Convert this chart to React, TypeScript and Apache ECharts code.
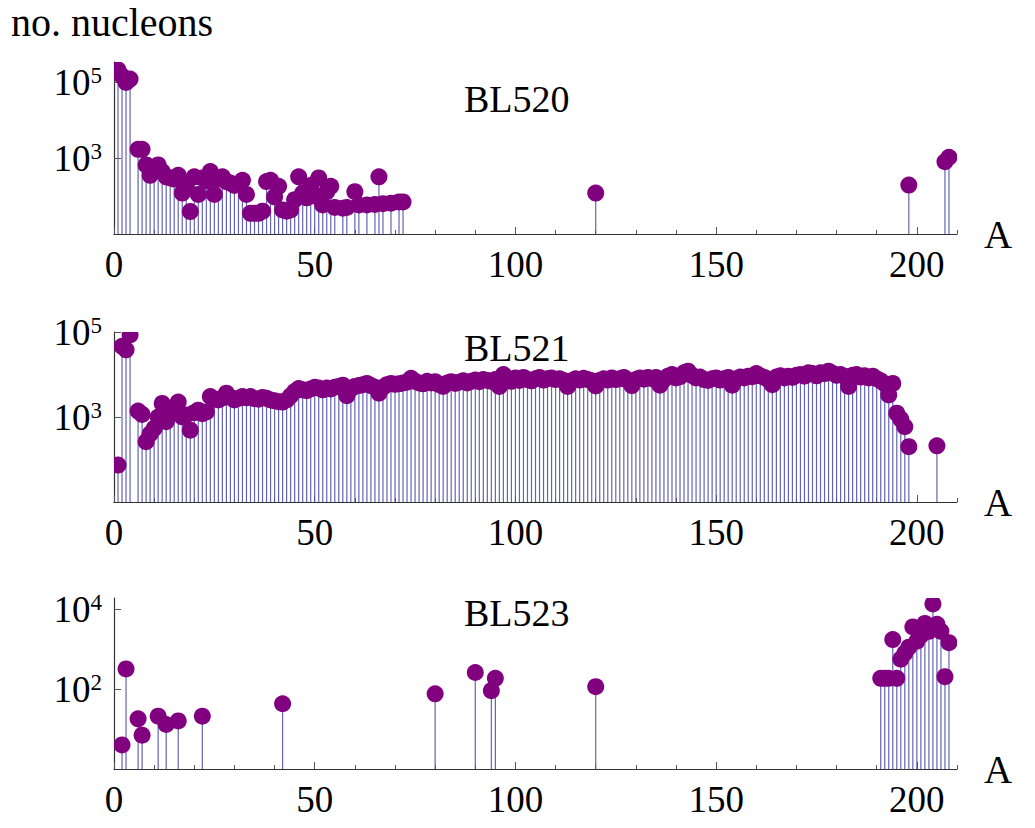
import React, { useEffect, useRef } from "react";
import * as echarts from "echarts";

// ---------- data: mass number A and number of nucleons ----------
const bl520Mass = [1, 2, 3, 4, 6, 7, 8, 9, 10, 11, 12, 13, 14, 15, 16, 17, 18, 19, 20, 21, 22, 23, 24, 25, 26, 27, 28, 29, 30, 31, 32, 33, 34, 35, 36, 37, 38, 39, 40, 41, 42, 43, 44, 45, 46, 47, 48, 49, 50, 51, 52, 53, 54, 55, 57, 58, 60, 61, 63, 65, 66, 67, 69, 71, 72, 120, 198, 207, 208];
const bl520Counts = [210000, 145000, 98000, 120000, 1700, 1700, 660, 350, 500, 660, 440, 320, 300, 280, 350, 120, 200, 39, 320, 110, 300, 250, 440, 110, 280, 320, 240, 220, 190, 200, 260, 110, 35, 35, 35, 40, 240, 260, 95, 180, 43, 40, 43, 80, 320, 120, 90, 190, 100, 300, 58, 130, 180, 50, 48, 50, 130, 58, 58, 60, 320, 63, 65, 70, 70, 120, 195, 800, 1050];

const bl521Mass = [1, 2, 3, 4, 6, 7, 8, 9, 10, 11, 12, 13, 14, 15, 16, 17, 18, 19, 20, 21, 22, 23, 24, 25, 26, 27, 28, 29, 30, 31, 32, 33, 34, 35, 36, 37, 38, 39, 40, 41, 42, 43, 44, 45, 46, 47, 48, 49, 50, 51, 52, 53, 54, 55, 56, 57, 58, 59, 60, 61, 62, 63, 64, 65, 66, 67, 68, 69, 70, 71, 72, 73, 74, 75, 76, 77, 78, 79, 80, 81, 82, 83, 84, 85, 86, 87, 88, 89, 90, 91, 92, 93, 94, 95, 96, 97, 98, 99, 100, 101, 102, 103, 104, 105, 106, 107, 108, 109, 110, 111, 112, 113, 114, 115, 116, 117, 118, 119, 120, 121, 122, 123, 124, 125, 126, 127, 128, 129, 130, 131, 132, 133, 134, 135, 136, 137, 138, 139, 140, 141, 142, 143, 144, 145, 146, 147, 148, 149, 150, 151, 152, 153, 154, 155, 156, 157, 158, 159, 160, 161, 162, 163, 164, 165, 166, 167, 168, 169, 170, 171, 172, 173, 174, 175, 176, 177, 178, 179, 180, 181, 182, 183, 184, 185, 186, 187, 188, 189, 190, 191, 192, 193, 194, 195, 196, 197, 198, 205];
const bl521Counts = [74, 46000, 38000, 85000, 1380, 1150, 263, 400, 537, 1000, 2090, 776, 1120, 1580, 2240, 1000, 1120, 490, 1260, 1450, 1200, 1320, 3020, 2630, 2510, 2820, 3630, 2880, 2510, 2750, 3020, 2820, 3020, 2690, 2630, 2880, 2750, 2510, 2400, 2290, 2240, 2510, 3160, 3980, 4680, 4370, 4170, 4570, 5010, 4790, 4370, 4790, 4570, 5010, 5250, 5620, 3160, 4570, 5250, 5500, 5750, 6170, 5500, 5010, 3630, 5010, 5750, 6170, 5890, 6030, 6310, 6610, 8130, 6920, 6310, 6030, 6920, 6310, 6760, 5750, 5250, 6310, 6760, 6170, 6610, 7080, 6310, 6920, 7410, 6760, 7590, 7240, 6920, 7590, 5250, 10000, 7940, 6920, 8320, 7240, 8510, 7590, 7080, 7940, 8510, 7410, 7940, 8320, 7590, 7940, 7240, 5250, 7080, 7940, 7410, 8130, 7590, 7080, 5370, 7240, 7940, 7410, 8320, 7590, 7940, 8510, 7240, 5500, 7590, 8320, 7760, 8510, 7940, 8510, 5620, 7590, 9120, 10000, 8320, 8910, 11000, 12000, 9550, 8320, 8710, 7590, 7240, 7940, 8320, 7410, 7940, 8510, 5620, 7940, 8710, 8320, 9120, 8910, 10500, 9330, 8510, 7590, 5750, 8710, 9330, 8320, 9120, 8510, 9550, 10000, 9120, 11000, 10500, 9330, 11000, 10500, 12000, 10700, 9550, 10000, 9120, 5250, 9550, 10000, 8710, 9330, 8320, 9120, 7940, 7080, 6030, 3310, 6170, 1230, 890, 590, 200, 210];

const bl523Mass = [2, 3, 6, 7, 11, 13, 16, 22, 42, 80, 90, 94, 95, 120, 191, 192, 193, 194, 195, 196, 197, 198, 199, 200, 201, 202, 203, 204, 205, 206, 207, 208];
const bl523Counts = [4, 320, 18, 7, 21, 13, 16, 21, 43, 76, 260, 91, 186, 115, 186, 186, 186, 1740, 186, 560, 790, 1120, 3600, 1580, 2200, 4400, 2800, 13500, 4200, 2800, 204, 1450];

const panelNames = ["BL520", "BL521", "BL523"];
const xMajorTicks = [0, 50, 100, 150, 200];
const xMinorTicks = [0, 10, 20, 30, 40, 50, 60, 70, 80, 90, 100, 110, 120, 130, 140, 150, 160, 170, 180, 190, 200, 210];
const yTickExponents = [[3, 5], [3, 5], [2, 4]];
const yLogRange = [[1, 5.53], [1, 5], [0, 4.28]];
const xRange = [0, 210];

// ---------- layout / style ----------
const FONT = '"Liberation Serif", "Times New Roman", Times, serif';
const PURPLE = "#800080";
const STEM = "#5353ae";
const AXIS = "#333333";
const TICK = "#555555";

const layout = [
  { top: 62, height: 172, labelY: 80 },
  { top: 332, height: 170, labelY: 329 },
  { top: 598, height: 171, labelY: 594 },
];

const datasets = [
  { mass: bl520Mass, counts: bl520Counts },
  { mass: bl521Mass, counts: bl521Counts },
  { mass: bl523Mass, counts: bl523Counts },
];

export default function App() {
  const ref = useRef<HTMLDivElement>(null);

  useEffect(() => {
    if (!ref.current) return;
    const chart = echarts.init(ref.current, undefined, { renderer: "svg" });

    const grid: any[] = [];
    const xAxis: any[] = [];
    const yAxis: any[] = [];
    const series: any[] = [];
    const graphic: any[] = [];

    datasets.forEach((ds, i) => {
      const L = layout[i];
      const [yMin, yMax] = yLogRange[i];
      grid.push({ left: 114, top: L.top, width: 843, height: L.height, containLabel: false });

      xAxis.push({
        type: "value",
        gridIndex: i,
        min: xRange[0],
        max: xRange[1],
        position: "bottom",
        axisLine: { show: true, onZero: false, lineStyle: { color: AXIS, width: 1.2 } },
        axisTick: { show: true, inside: true, length: 4, customValues: xMinorTicks, lineStyle: { color: TICK, width: 1 } },
        axisLabel: {
          show: true,
          customValues: xMajorTicks,
          margin: 12,
          fontSize: 37,
          fontFamily: FONT,
          color: "#000",
        },
        splitLine: { show: false },
        name: "A",
        nameLocation: "end",
        nameGap: 27,
        nameTextStyle: { fontSize: 39, fontFamily: FONT, color: "#000", verticalAlign: "middle", align: "left" },
      });
      xAxis.push({
        type: "value",
        gridIndex: i,
        min: xRange[0],
        max: xRange[1],
        position: "bottom",
        axisLine: { show: false, onZero: false },
        axisTick: { show: true, inside: true, length: 7, customValues: xMajorTicks, lineStyle: { color: TICK, width: 1 } },
        axisLabel: { show: false },
        splitLine: { show: false },
      });

      yAxis.push({
        type: "value",
        gridIndex: i,
        min: yMin,
        max: yMax,
        axisLine: { show: true, onZero: false, lineStyle: { color: AXIS, width: 1.2 } },
        axisTick: { show: true, inside: true, length: 7, customValues: yTickExponents[i], lineStyle: { color: TICK, width: 1 } },
        axisLabel: {
          show: true,
          customValues: yTickExponents[i],
          margin: 12,
          formatter: (v: number) => `{b|10}{s|${Math.round(v)}}`,
          rich: {
            b: { fontSize: 37, fontFamily: FONT, color: "#000", lineHeight: 37, padding: [8, 0, 0, 0], verticalAlign: "bottom" },
            s: { fontSize: 23, fontFamily: FONT, color: "#000", lineHeight: 23, verticalAlign: "top" },
          },
        },
        splitLine: { show: false },
      });

      const points = ds.mass.map((a, k) => [a, Math.log10(ds.counts[k])]);

      series.push({
        type: "custom",
        name: panelNames[i] + " stems",
        xAxisIndex: 2 * i,
        yAxisIndex: i,
        clip: true,
        z: 2,
        data: points,
        renderItem: (params: any, api: any) => {
          const x = api.value(0);
          const y = api.value(1);
          const top = api.coord([x, y]);
          const base = api.coord([x, yMin]);
          return {
            type: "line",
            shape: { x1: base[0], y1: base[1], x2: top[0], y2: top[1] },
            style: { stroke: STEM, lineWidth: 1.2, opacity: 0.9 },
          };
        },
      });
      series.push({
        type: "custom",
        name: panelNames[i],
        xAxisIndex: 2 * i,
        yAxisIndex: i,
        clip: true,
        z: 3,
        data: points,
        renderItem: (params: any, api: any) => {
          const c = api.coord([api.value(0), api.value(1)]);
          return { type: "circle", shape: { cx: c[0], cy: c[1], r: 8.5 }, style: { fill: PURPLE } };
        },
      });

      graphic.push({
        type: "text",
        x: 464,
        y: L.labelY,
        style: { text: panelNames[i], font: `38px ${FONT}`, fill: "#000", verticalAlign: "top" },
        z: 10,
      });
    });

    graphic.push({
      type: "text",
      x: 11,
      y: 2,
      style: { text: "no. nucleons", font: `40px ${FONT}`, fill: "#000", verticalAlign: "top" },
      z: 10,
    });

    chart.setOption({
      animation: false,
      backgroundColor: "#ffffff",
      grid,
      xAxis,
      yAxis,
      series,
      graphic,
    });

    return () => chart.dispose();
  }, []);

  return (
    <div
      ref={ref}
      style={{ position: "absolute", left: 0, top: 0, width: 1035, height: 828, background: "#fff" }}
    />
  );
}
